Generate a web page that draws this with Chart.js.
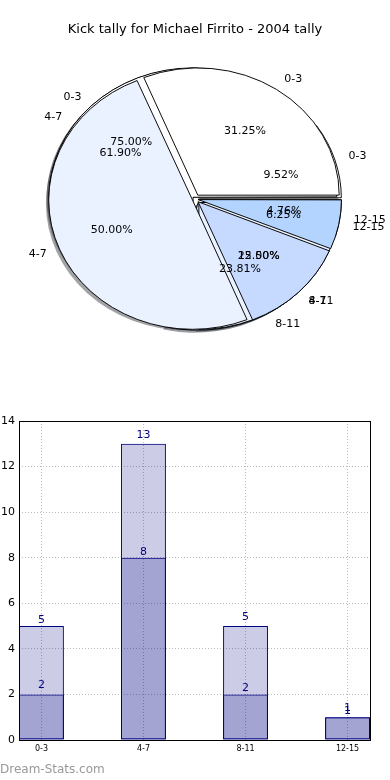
<!DOCTYPE html>
<html>
<head>
<meta charset="utf-8">
<script src="https://cdn.jsdelivr.net/npm/chart.js@4/dist/chart.umd.min.js"></script>
<style>
html, body { margin: 0; padding: 0; background: #fff; }
#pies { position: relative; width: 390px; height: 390px; }
#pies canvas { position: absolute; left: 0; top: 0; }
#bars { display: block; }
</style>
</head>
<body>
<div id="pies">
  <canvas id="pieB" width="390" height="390"></canvas>
  <canvas id="pieC" width="390" height="390"></canvas>
  <canvas id="pieA" width="390" height="390"></canvas>
</div>
<canvas id="bars" width="390" height="390"></canvas>
<script>
// kick ranges and tallies
const ranges = ['0-3', '4-7', '8-11', '12-15'];
const kicksA = [5, 8, 2, 1];
const kicksB = [2, 13, 5, 1];
const rangesC = ['0-3', '4-7'];
const kicksC = [3, 1];
const sliceColors = ['#ffffff', '#eaf1ff', '#c6d9ff', '#b3d4ff'];

const squash = 0.9;   // pie is drawn as an ellipse
const explode = 5.5;  // px each wedge is pushed out
const pies = [];      // filled once all three pies exist

Chart.defaults.font.family = 'DejaVu Sans';

function total(arr) {
  return arr.reduce((a, b) => a + b, 0);
}

// chart.js pushes wedges by offset/4 * (1 + fix), undo that so every wedge moves the same
function arcOffset(ctx) {
  const data = ctx.dataset.data;
  const circ = data[ctx.dataIndex] / total(data) * 2 * Math.PI;
  const fix = 1 - Math.sin(Math.min(Math.PI, circ));
  return 4 * explode / (1 + fix);
}

function shadowOf(hex) {
  const n = parseInt(hex.slice(1), 16);
  const r = Math.round(((n >> 16) & 255) * 0.3);
  const g = Math.round(((n >> 8) & 255) * 0.3);
  const b = Math.round((n & 255) * 0.3);
  return 'rgba(' + r + ',' + g + ',' + b + ',0.5)';
}

const ellipse = {
  id: 'ellipse',
  beforeDatasetsDraw(chart) {
    const { ctx, chartArea } = chart;
    const cx = (chartArea.left + chartArea.right) / 2;
    const cy = (chartArea.top + chartArea.bottom) / 2;
    ctx.save();
    ctx.translate(cx, cy);
    ctx.scale(1, squash);
    ctx.translate(-cx, -cy);
    // all shadows go on the bottom canvas, under every wedge
    if (pies[0] !== chart) return;
    pies.forEach(c => {
      c.getDatasetMeta(0).data.forEach(arc => {
        const mid = (arc.startAngle + arc.endAngle) / 2;
        const ox = arc.x + explode * Math.cos(mid) - 3;
        const oy = arc.y + explode * Math.sin(mid) + 2.6 / squash;
        ctx.beginPath();
        ctx.moveTo(ox, oy);
        ctx.arc(ox, oy, arc.outerRadius, arc.startAngle, arc.endAngle);
        ctx.closePath();
        ctx.fillStyle = shadowOf(arc.options.backgroundColor);
        ctx.fill();
      });
    });
  },
  afterDatasetsDraw(chart) {
    chart.ctx.restore();
  }
};

function makePie(id, labels, values, withTitle, extra) {
  return new Chart(document.getElementById(id), {
    type: 'pie',
    data: {
      labels: labels.slice().reverse(),
      datasets: [{
        data: values.slice().reverse(),
        backgroundColor: sliceColors.slice(0, values.length).reverse(),
        borderColor: '#000',
        borderWidth: 1,
        offset: arcOffset,
        radius: 141,
        clip: false
      }]
    },
    options: {
      responsive: false,
      animation: false,
      events: [],
      rotation: 90,
      layout: { padding: { top: withTitle ? 0 : 40, bottom: 32 } },
      plugins: {
        legend: { display: false },
        tooltip: { enabled: false },
        title: {
          display: withTitle,
          text: 'Kick tally for Michael Firrito - 2004 tally',
          color: '#000',
          font: { size: 13, weight: 'normal' },
          padding: { top: 22, bottom: 2.4 }
        }
      }
    },
    plugins: [ellipse].concat(extra || [])
  });
}

const pieB = makePie('pieB', ranges, kicksB, false);
const pieC = makePie('pieC', rangesC, kicksC, false);

const pieText = {
  id: 'pieText',
  afterDraw(chart) {
    const ctx = chart.ctx;
    ctx.save();
    ctx.font = '11px "DejaVu Sans"';
    ctx.fillStyle = '#000';
    ctx.textBaseline = 'middle';
    [pieB, pieC, chart].forEach(c => {
      const values = c.data.datasets[0].data;
      const sum = total(values);
      c.getDatasetMeta(0).data.forEach((arc, i) => {
        const mid = (arc.startAngle + arc.endAngle) / 2;
        const cos = Math.cos(mid), sin = Math.sin(mid);
        const rl = explode + 1.1 * arc.outerRadius;
        const rp = explode + 0.6 * arc.outerRadius;
        ctx.textAlign = cos > 0 ? 'left' : 'right';
        ctx.fillText(c.data.labels[i], arc.x + rl * cos, arc.y + rl * sin * squash);
        ctx.textAlign = 'center';
        ctx.fillText((values[i] / sum * 100).toFixed(2) + '%', arc.x + rp * cos, arc.y + rp * sin * squash);
      });
    });
    ctx.restore();
  }
};

const pieA = makePie('pieA', ranges, kicksA, true, [pieText]);

pies.push(pieB, pieC, pieA);
pieB.draw();

const barText = {
  id: 'barText',
  afterDatasetsDraw(chart) {
    const ctx = chart.ctx;
    ctx.save();
    ctx.font = '11px "DejaVu Sans"';
    ctx.fillStyle = '#000080';
    ctx.textAlign = 'center';
    ctx.textBaseline = 'middle';
    chart.data.datasets.forEach((ds, di) => {
      chart.getDatasetMeta(di).data.forEach((bar, i) => {
        ctx.fillText(String(ds.data[i].y), bar.x, bar.y - (di === 0 ? 6 : 9));
      });
    });
    ctx.restore();
  },
  afterDraw(chart) {
    const { ctx, chartArea: a } = chart;
    ctx.save();
    ctx.strokeStyle = '#000';
    ctx.lineWidth = 1;
    ctx.strokeRect(Math.round(a.left) + 0.5, Math.round(a.top) + 0.5,
      Math.round(a.right - a.left), Math.round(a.bottom - a.top));
    ctx.font = '12px "DejaVu Sans"';
    ctx.fillStyle = '#999';
    ctx.textAlign = 'left';
    ctx.textBaseline = 'middle';
    ctx.fillText('Dream-Stats.com', 0, 380);
    ctx.restore();
  }
};

const gridStyle = { color: '#bbbbbb', lineWidth: 1, drawTicks: false, offset: false };

new Chart(document.getElementById('bars'), {
  type: 'bar',
  data: {
    datasets: [
      {
        data: kicksA.map((v, i) => ({ x: i, y: v })),
        backgroundColor: 'rgba(0,0,128,0.2)',
        borderColor: '#000080',
        borderWidth: 1,
        borderSkipped: false
      },
      {
        data: kicksB.map((v, i) => ({ x: i, y: v })),
        backgroundColor: 'rgba(0,0,128,0.2)',
        borderColor: '#000080',
        borderWidth: 1,
        borderSkipped: false
      }
    ]
  },
  options: {
    responsive: false,
    animation: false,
    events: [],
    grouped: false,
    barPercentage: 0.44,
    categoryPercentage: 1,
    layout: { padding: { top: 31, right: 20, left: 0, bottom: 0 } },
    scales: {
      x: {
        type: 'linear',
        min: -0.22,
        max: 3.22,
        offset: false,
        afterFit: s => { s.height = 40; },
        ticks: {
          stepSize: 1,
          includeBounds: false,
          autoSkip: false,
          maxRotation: 0,
          padding: 4,
          color: '#000',
          font: { size: 8 },
          callback: v => ranges[v]
        },
        grid: gridStyle,
        border: { display: false, dash: [1, 2] }
      },
      y: {
        min: 0,
        max: 14,
        afterFit: s => { s.width = 19; },
        ticks: { stepSize: 2, padding: 4, color: '#000', font: { size: 11 } },
        grid: gridStyle,
        border: { display: false, dash: [1, 2] }
      }
    },
    plugins: { legend: { display: false }, tooltip: { enabled: false } }
  },
  plugins: [barText]
});
</script>
</body>
</html>
